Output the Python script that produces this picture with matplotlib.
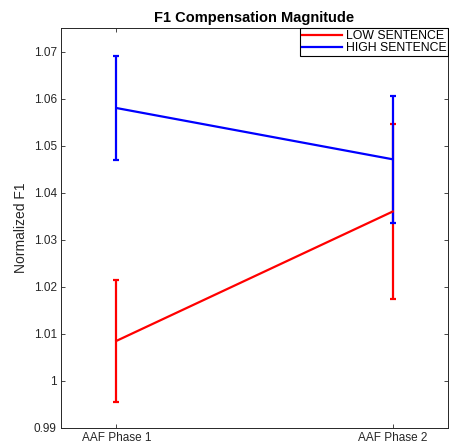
import matplotlib
matplotlib.use("Agg")
import matplotlib.pyplot as plt
from matplotlib.lines import Line2D

plt.rcParams['font.family'] = ['Liberation Sans', 'DejaVu Sans']

phases = ["AAF Phase 1", "AAF Phase 2"]
low_mean = [1.0085, 1.036]
low_err = [0.0129, 0.0185]
high_mean = [1.058, 1.0471]
high_err = [0.011, 0.0135]

W, H = 449, 447
fig = plt.figure(figsize=(W / 100, H / 100), dpi=100)
ax = fig.add_axes([61 / W, 1 - 428 / H, (448 - 61) / W, (428 - 28) / H])

x = [1, 2]
gray = '#262626'
ax.errorbar(x, low_mean, yerr=low_err, color='#ff0000', lw=1.6, capsize=2.5,
            capthick=1.6)
ax.errorbar(x, high_mean, yerr=high_err, color='#0000ff', lw=1.6, capsize=2.5,
            capthick=1.6)

ax.set_xlim(0.8, 2.2)
ax.set_ylim(0.99, 1.075)
ax.set_xticks(x)
ax.set_xticklabels(phases)
yt = [0.99, 1.0, 1.01, 1.02, 1.03, 1.04, 1.05, 1.06, 1.07]
ax.set_yticks(yt)
ax.set_yticklabels(['0.99', '1', '1.01', '1.02', '1.03', '1.04', '1.05', '1.06', '1.07'])
ax.tick_params(direction='in', top=True, right=True, length=3, width=0.6,
               colors=gray, labelsize=8.5, pad=3)
for s in ax.spines.values():
    s.set_color(gray)
    s.set_linewidth(0.7)

ax.set_ylabel('Normalized F1', fontsize=10, color=gray, labelpad=4)
ax.set_title('F1 Compensation Magnitude', fontsize=10.5, fontweight='bold', color='black', pad=4)

handles = [Line2D([], [], color='#ff0000', lw=1.6), Line2D([], [], color='#0000ff', lw=1.6)]
leg = ax.legend(handles, ['LOW SENTENCE', 'HIGH SENTENCE'], loc='upper right',
                fontsize=8.8, frameon=True, fancybox=False,
                borderpad=0.15, labelspacing=0.0, handlelength=3.3, handletextpad=0.3,
                borderaxespad=0.0, edgecolor='black', framealpha=1)
leg.get_frame().set_linewidth(0.8)

fig.savefig('out.png', dpi=100)
